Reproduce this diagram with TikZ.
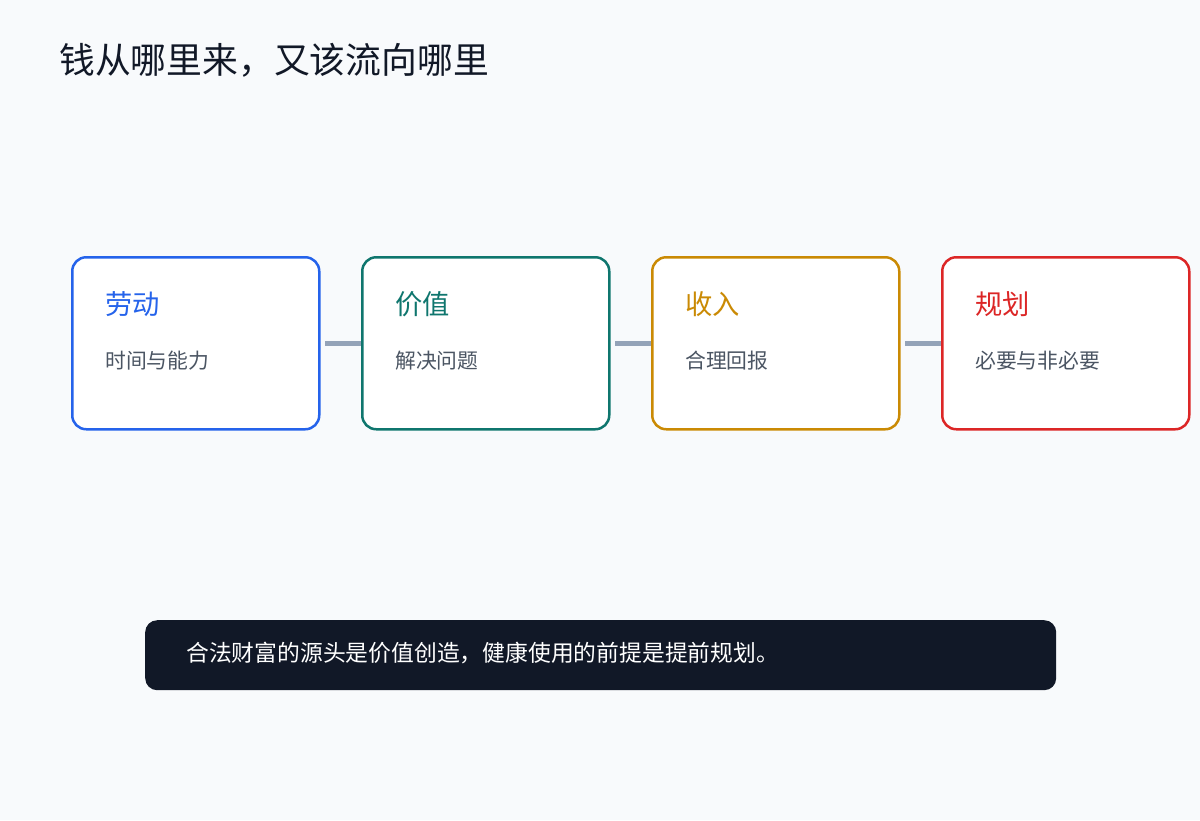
\documentclass[tikz,border=0pt]{standalone}
\usepackage{fontspec}
\setmainfont{Noto Sans CJK SC}
\definecolor{bg}{HTML}{F8FAFC}
\definecolor{ink}{HTML}{111827}
\definecolor{sub}{HTML}{4B5563}
\definecolor{cblue}{HTML}{2563EB}
\definecolor{cteal}{HTML}{0F766E}
\definecolor{camber}{HTML}{CA8A04}
\definecolor{cred}{HTML}{DC2626}
\definecolor{link}{HTML}{94A3B8}
\begin{document}
\begin{tikzpicture}[x=1pt,y=-1pt,
  card/.style={draw=#1, line width=2.5pt, fill=white, rounded corners=14pt, minimum width=247pt, minimum height=172pt, inner sep=0pt, anchor=north west},
  cardtitle/.style={text=#1, font=\fontsize{27.3}{31}\selectfont, inner sep=0pt, anchor=west},
  cardsub/.style={text=sub, font=\fontsize{20.8}{24}\selectfont, inner sep=0pt, anchor=west},
  connector/.style={draw=link, line width=5pt}]
\useasboundingbox (0,0) rectangle (1200,820);
\fill[bg] (0,0) rectangle (1200,820);
\node[text=ink, font=\fontsize{35.8}{40}\selectfont, inner sep=0pt, anchor=west] (title) at (59,60) {钱从哪里来，又该流向哪里};

\node[card=cblue] (b1) at (71,256) {};
\node[card=cteal] (b2) at (361,256) {};
\node[card=camber] (b3) at (651,256) {};
\node[card=cred] (b4) at (941,256) {};

\node[cardtitle=cblue] (t1) at (105,304) {劳动};
\node[cardsub] (s1) at (105,361) {时间与能力};
\node[cardtitle=cteal] (t2) at (395,304) {价值};
\node[cardsub] (s2) at (395,361) {解决问题};
\node[cardtitle=camber] (t3) at (685,304) {收入};
\node[cardsub] (s3) at (685,361) {合理回报};
\node[cardtitle=cred] (t4) at (975,304) {规划};
\node[cardsub] (s4) at (975,361) {必要与非必要};

\draw[connector] ([xshift=4.5pt]b1.east) -- (b2.west);
\draw[connector] ([xshift=4.5pt]b2.east) -- (b3.west);
\draw[connector] ([xshift=4.5pt]b3.east) -- (b4.west);

\node[fill=ink, rounded corners=12pt, minimum width=911pt, minimum height=70pt, inner sep=0pt, anchor=north west] (bar) at (145,620) {};
\node[text=white, font=\fontsize{22.8}{26}\selectfont, inner sep=0pt, anchor=west] (note) at (186,653) {合法财富的源头是价值创造，健康使用的前提是提前规划。};
\end{tikzpicture}
\end{document}
